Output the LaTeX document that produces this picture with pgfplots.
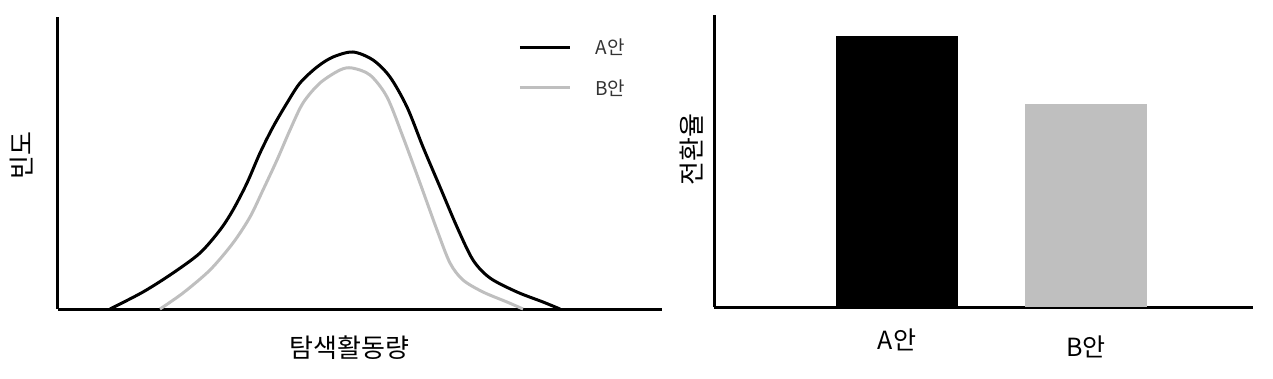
\documentclass[border=0pt]{standalone}
\usepackage{fontspec}
\setmainfont{Noto Sans CJK KR}
\usepackage{pgfplots}
\pgfplotsset{compat=1.18}
\definecolor{lgray}{HTML}{BFBFBF}
\begin{document}
\begin{tikzpicture}[x=1pt,y=1pt]
\path[use as bounding box] (0,0) rectangle (1273,378);
\begin{axis}[name=left, at={(58,69)}, anchor=south west, scale only axis,
  width=604pt, height=292pt, xmin=0, xmax=604, ymin=0, ymax=292,
  axis lines=left, axis line style={-, line width=3pt},
  xtick=\empty, ytick=\empty, clip=false,
  xlabel={탐색활동량}, ylabel={빈도},
  label style={font=\fontsize{26}{30}\selectfont},
  xlabel style={at={(axis description cs:0.483,-0.134)}, anchor=center},
  ylabel style={at={(axis description cs:-0.0596,0.527)}, anchor=center},
  legend style={draw=none, fill=none, at={(axis description cs:0.762,0.925)}, anchor=north west,
    inner sep=0pt, row sep=23pt, column sep=24pt,
    nodes={inner sep=0pt, font=\fontsize{19}{22}\selectfont, text=black!80}},
  legend cell align=left,
  legend image code/.code={\draw[#1] (0pt,0pt) -- (50pt,0pt);},
]
\addplot[black, line width=3pt, smooth, tension=0.5] coordinates {
(52,0)(85,17)(115,36)(142,56)(162,79)(175,99)(189,126)(202,156)(215,182)(229,206)(242,226)(259,242)(275,252)(295,257)(315,249)(332,232)(349,202)(365,162)(382,122)(399,82)(415,49)(432,31)(459,17)(485,7)(502,0)};
\addlegendentry{A안}
\addplot[lgray, line width=3pt, smooth, tension=0.5] coordinates {
(102,0)(125,16)(152,39)(175,66)(192,92)(205,119)(219,149)(232,179)(245,206)(262,226)(282,239)(294,241)(312,234)(329,212)(345,172)(362,126)(379,79)(392,46)(405,29)(425,17)(449,7)(465,0)};
\addlegendentry{B안}
\end{axis}
\begin{axis}[name=right, at={(714,71)}, anchor=south west, scale only axis,
  width=539pt, height=292pt, xmin=0, xmax=539, ymin=0, ymax=292,
  axis lines=left, axis line style={-, line width=3pt},
  ytick=\empty, xtick={183,372}, xticklabels={A안,\raisebox{-7pt}{B안}},
  major tick length=0pt,
  xticklabel style={anchor=base, yshift=-42pt, font=\fontsize{25}{30}\selectfont},
  ylabel={전환율},
  label style={font=\fontsize{26}{30}\selectfont},
  ylabel style={at={(axis description cs:-0.0408,0.538)}, anchor=center},
  clip=false,
]
\addplot[ybar, bar width=122, fill=black, draw=none] coordinates {(183,271)};
\addplot[ybar, bar width=122, fill=lgray, draw=none] coordinates {(372,203)};
\end{axis}
\end{tikzpicture}
\end{document}
